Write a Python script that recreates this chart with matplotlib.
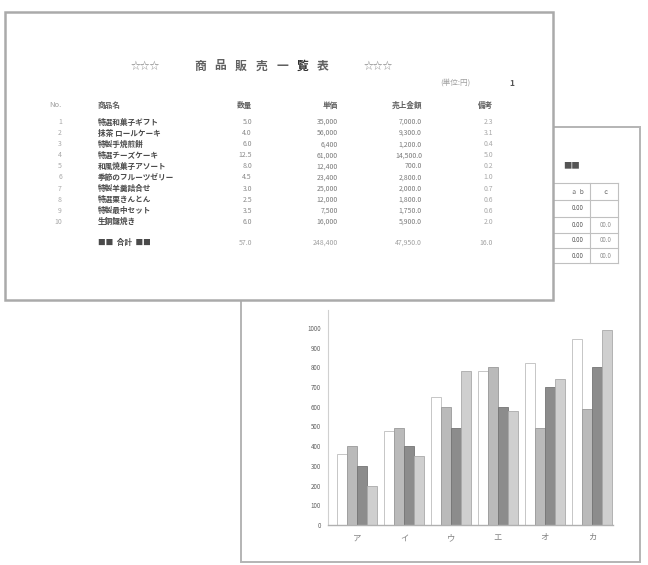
import matplotlib
matplotlib.use('Agg')
import numpy as np
from matplotlib import pyplot as plt
from matplotlib.patches import Rectangle

plt.rcParams['font.family'] = ['Noto Sans CJK JP', 'DejaVu Sans']

W, H = 648, 565

# --- table sheet data ---
title_chars = ['商', '品', '販', '売', '一', '覧', '表']
headers = ['No.', '商品名', '数量', '単価', '売上金額', '備考']
row_no = ['1', '2', '3', '4', '5', '6', '7', '8', '9', '10']
names = ['特選和菓子ギフト', '抹茶 ロールケーキ', '特製手焼煎餅', '特選チーズケーキ', '和風焼菓子アソート',
         '季節のフルーツゼリー', '特製羊羹詰合せ', '特選栗きんとん', '特製最中セット', '生銅鑼焼き']
qty = ['5.0', '4.0', '6.0', '12.5', '8.0', '4.5', '3.0', '2.5', '3.5', '6.0']
price = ['35,000', '56,000', '6,400', '61,000', '12,400', '23,400', '25,000', '12,000', '7,500', '16,000']
amount = ['7,000.0', '9,300.0', '1,200.0', '14,500.0', '700.0', '2,800.0', '2,000.0', '1,800.0', '1,750.0', '5,900.0']
remark = ['2.3', '3.1', '0.4', '5.0', '0.2', '1.0', '0.7', '0.6', '0.6', '2.0']
total = ['57.0', '248,400', '47,950.0', '16.0']

# --- chart sheet data ---
groups = ['ア', 'イ', 'ウ', 'エ', 'オ', 'カ']
s1 = [360, 475, 650, 780, 820, 945]
s2 = [400, 490, 600, 800, 490, 590]
s3 = [300, 400, 490, 600, 700, 800]
s4 = [200, 350, 780, 580, 740, 990]
yticks = [0, 100, 200, 300, 400, 500, 600, 700, 800, 900, 1000]

# small side table on the chart sheet
side_head = ['ａ ｂ', 'ｃ']
side_left = ['0.00', '0.00', '0.00', '0.00']
side_right = ['', '00.0', '00.0', '00.0']


def fx(x):
    return x / W


def fy(y):
    return 1 - y / H


def ftext(x, y, s, **kw):
    kw.setdefault('va', 'center')
    kw.setdefault('zorder', 5)
    fig.text(fx(x), fy(y), s, **kw)


fig = plt.figure(figsize=(W / 100, H / 100), dpi=100)
fig.patch.set_facecolor('white')

# chart sheet (behind)
fig.patches.append(Rectangle((fx(241), fy(562)), fx(640) - fx(241), fy(127) - fy(562),
                             transform=fig.transFigure, facecolor='white', edgecolor='#b4b4b4',
                             linewidth=1.4, zorder=0))
ftext(572, 166, '■■', fontsize=6, color='#555555', ha='center', zorder=1)
row_lines = [183, 200, 217, 233, 248, 263]
for y in row_lines:
    fig.lines.append(plt.Line2D([fx(553), fx(618)], [fy(y), fy(y)], transform=fig.transFigure,
                                color='#c0c0c0', linewidth=0.8, zorder=1))
for x in [590, 618]:
    fig.lines.append(plt.Line2D([fx(x), fx(x)], [fy(183), fy(263)], transform=fig.transFigure,
                                color='#c0c0c0', linewidth=0.8, zorder=1))
ftext(578, 192, side_head[0], fontsize=4.5, color='#707070', ha='center', zorder=1)
ftext(605, 192, side_head[1], fontsize=4.5, color='#707070', ha='center', zorder=1)
for i in range(4):
    yy = (row_lines[i + 1] + row_lines[i + 2]) / 2
    ftext(578, yy, side_left[i], fontsize=4.5, color='#555555', ha='center', zorder=1)
    ftext(606, yy, side_right[i], fontsize=4.5, color='#909090', ha='center', zorder=1)

# table sheet (front)
fig.patches.append(Rectangle((fx(5), fy(300)), fx(553) - fx(5), fy(12) - fy(300),
                             transform=fig.transFigure, facecolor='white', edgecolor='#aaaaaa',
                             linewidth=1.8, zorder=2))

ftext(145, 66, '☆☆☆', fontsize=7, color='#909090', ha='center')
ftext(378, 66, '☆☆☆', fontsize=7, color='#909090', ha='center')
for i, ch in enumerate(title_chars):
    ftext(200 + i * 20.5, 66, ch, fontsize=8.5, color='#606060' if ch != '覧' else '#303030',
          ha='center', fontweight='bold')
ftext(455, 83, '(単位:円)', fontsize=5.5, color='#a0a0a0', ha='center')
ftext(512, 83, '1', fontsize=6, color='#555555', ha='center', fontweight='bold')

col_x = [62, 98, 252, 338, 422, 493]
col_ha = ['right', 'left', 'right', 'right', 'right', 'right']
for x, ha, h in zip(col_x, col_ha, headers):
    ftext(x, 105, h, fontsize=5.5, color='#606060' if h != 'No.' else '#a0a0a0', ha=ha,
          fontweight='bold' if h != 'No.' else 'normal')

for i in range(len(row_no)):
    y = 122 + i * 11.1
    ftext(col_x[0], y, row_no[i], fontsize=5, color='#a8a8a8', ha='right')
    ftext(col_x[1], y, names[i], fontsize=5.5, color='#4a4a4a', ha='left', fontweight='bold')
    ftext(col_x[2], y, qty[i], fontsize=5, color='#8a8a8a', ha='right')
    ftext(col_x[3], y, price[i], fontsize=5, color='#7a7a7a', ha='right')
    ftext(col_x[4], y, amount[i], fontsize=5, color='#7a7a7a', ha='right')
    ftext(col_x[5], y, remark[i], fontsize=5, color='#a8a8a8', ha='right')

ftext(col_x[1], 243, '■■  合計  ■■', fontsize=5.5, color='#4a4a4a', ha='left', fontweight='bold')
for x, v in zip(col_x[2:], total):
    ftext(x, 243, v, fontsize=5, color='#a0a0a0', ha='right')

# bar chart on the chart sheet
ax = fig.add_axes([fx(328), fy(525), fx(613) - fx(328), fy(310) - fy(525)])
ax.set_facecolor('none')
ax.set_zorder(3)
x = np.arange(len(groups))
bw = 0.213
series = [s1, s2, s3, s4]
colors = ['#ffffff', '#bababa', '#8c8c8c', '#cfcfcf']
edges = ['#bdbdbd', '#9a9a9a', '#747474', '#aaaaaa']
for k, (vals, c, e) in enumerate(zip(series, colors, edges)):
    ax.bar(x - 1.5 * bw + k * bw, vals, bw, color=c, edgecolor=e, linewidth=0.6)

ax.set_xlim(-0.617, 5.45)
ax.set_ylim(0, 1091)
ax.set_yticks(yticks)
ax.set_yticklabels([str(v) for v in yticks])
ax.set_xticks(x)
ax.set_xticklabels(groups)
ax.tick_params(axis='y', length=0, labelsize=4.5, labelcolor='#606060', pad=5)
ax.tick_params(axis='x', length=0, labelsize=6, labelcolor='#808080', pad=6)
for sp in ['top', 'right']:
    ax.spines[sp].set_visible(False)
ax.spines['left'].set_color('#d0d0d0')
ax.spines['bottom'].set_color('#b0b0b0')
ax.spines['left'].set_linewidth(0.8)
ax.spines['bottom'].set_linewidth(1.0)

fig.savefig('out.png', dpi=100)
